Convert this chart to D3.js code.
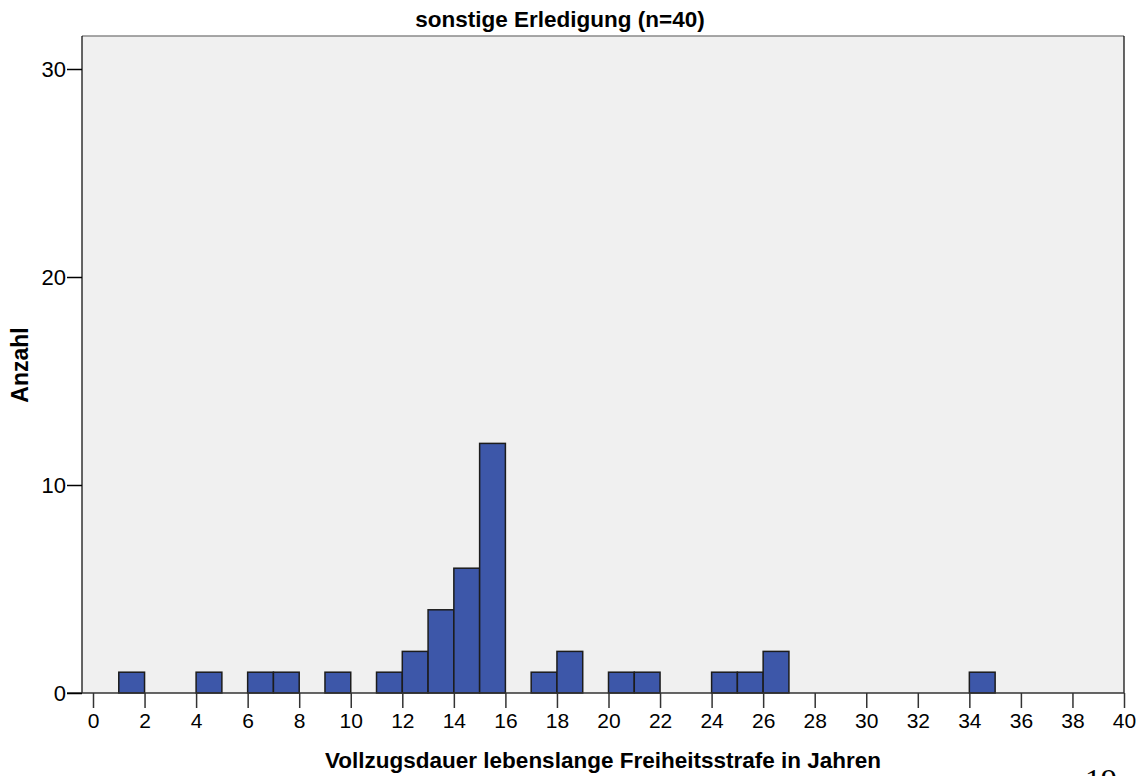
<!DOCTYPE html>
<meta charset="utf-8">
<script src="https://d3js.org/d3.v7.min.js"></script>
<style>
  body { margin: 0; background: #fff; }
  text { font-family: "Liberation Sans", Arial, sans-serif; }
</style>
<div id="my_dataviz"></div>
<script>
// bin start (Jahre), bin width 1, count per bin
var binStarts = [1, 4, 6, 7, 9, 11, 12, 13, 14, 15, 17, 18, 20, 21, 24, 25, 26, 34];
var counts    = [1, 1, 1, 1, 1, 1, 2, 4, 6, 12, 1, 2, 1, 1, 1, 1, 2, 1];
var xTicks = d3.range(0, 41, 2);
var yTicks = [0, 10, 20, 30];

var W = 1144, H = 776;
var plot = {left: 82, right: 1124, top: 36, bottom: 693};

var svg = d3.select("#my_dataviz")
  .append("svg")
    .attr("width", W)
    .attr("height", H);

var x = d3.scaleLinear().domain([0, 40]).range([93, 1124]);
var y = d3.scaleLinear().domain([0, 30]).range([693, 69]);

// plot background
svg.append("rect")
  .attr("x", plot.left).attr("y", plot.top)
  .attr("width", plot.right - plot.left)
  .attr("height", plot.bottom - plot.top)
  .style("fill", "#f0f0f0");

// bars
svg.selectAll("rect.bar")
  .data(binStarts)
  .enter()
  .append("rect")
    .attr("class", "bar")
    .attr("x", function(d){ return x(d); })
    .attr("y", function(d, i){ return y(counts[i]); })
    .attr("width", function(d){ return x(d + 1) - x(d); })
    .attr("height", function(d, i){ return y(0) - y(counts[i]); })
    .style("fill", "#3d57a9")
    .style("stroke", "#1c1c1c")
    .style("stroke-width", 1.5);

// frame: grey top, black left/right
svg.append("line")
  .attr("x1", plot.left).attr("x2", plot.right)
  .attr("y1", plot.top).attr("y2", plot.top)
  .style("stroke", "#8a8a8a").style("stroke-width", 1.5);
svg.append("line")
  .attr("x1", plot.left).attr("x2", plot.left)
  .attr("y1", plot.top).attr("y2", plot.bottom)
  .style("stroke", "#000").style("stroke-width", 1.2);
svg.append("line")
  .attr("x1", plot.right).attr("x2", plot.right)
  .attr("y1", plot.top).attr("y2", plot.bottom)
  .style("stroke", "#000").style("stroke-width", 1.2);

// x axis
var xAxis = svg.append("g")
  .attr("transform", "translate(0," + plot.bottom + ")")
  .call(d3.axisBottom(x).tickValues(xTicks).tickSize(15).tickPadding(5));
xAxis.select(".domain").remove();
xAxis.append("line")
  .attr("x1", 67).attr("x2", plot.right)
  .style("stroke", "#333").style("stroke-width", 1.5);
xAxis.selectAll(".tick line").style("stroke", "#333").style("stroke-width", 1.5);
xAxis.selectAll(".tick text")
  .style("font-size", "21px").style("fill", "#000")
  .style("font-family", "'Liberation Sans', Arial, sans-serif");

// y axis
var yAxis = svg.append("g")
  .attr("transform", "translate(" + plot.left + ",0)")
  .call(d3.axisLeft(y).tickValues(yTicks).tickSize(15).tickPadding(1));
yAxis.select(".domain").remove();
yAxis.selectAll(".tick line").style("stroke", "#000").style("stroke-width", 1.5);
yAxis.selectAll(".tick text")
  .style("font-size", "22px").style("fill", "#000")
  .style("font-family", "'Liberation Sans', Arial, sans-serif");

// titles
svg.append("text")
  .attr("x", 560).attr("y", 27)
  .attr("text-anchor", "middle")
  .style("font-size", "22.5px").style("font-weight", "bold")
  .text("sonstige Erledigung (n=40)");

svg.append("text")
  .attr("x", 603).attr("y", 768)
  .attr("text-anchor", "middle")
  .style("font-size", "22.5px").style("font-weight", "bold")
  .text("Vollzugsdauer lebenslange Freiheitsstrafe in Jahren");

svg.append("text")
  .attr("transform", "translate(28,365) rotate(-90)")
  .attr("text-anchor", "middle")
  .style("font-size", "23px").style("font-weight", "bold")
  .text("Anzahl");

// page number, cut at the bottom edge
svg.append("text")
  .attr("x", 1101).attr("y", 791)
  .attr("text-anchor", "middle")
  .style("font-family", "'Liberation Serif', 'Times New Roman', serif")
  .style("font-size", "32px")
  .text("19");
</script>
